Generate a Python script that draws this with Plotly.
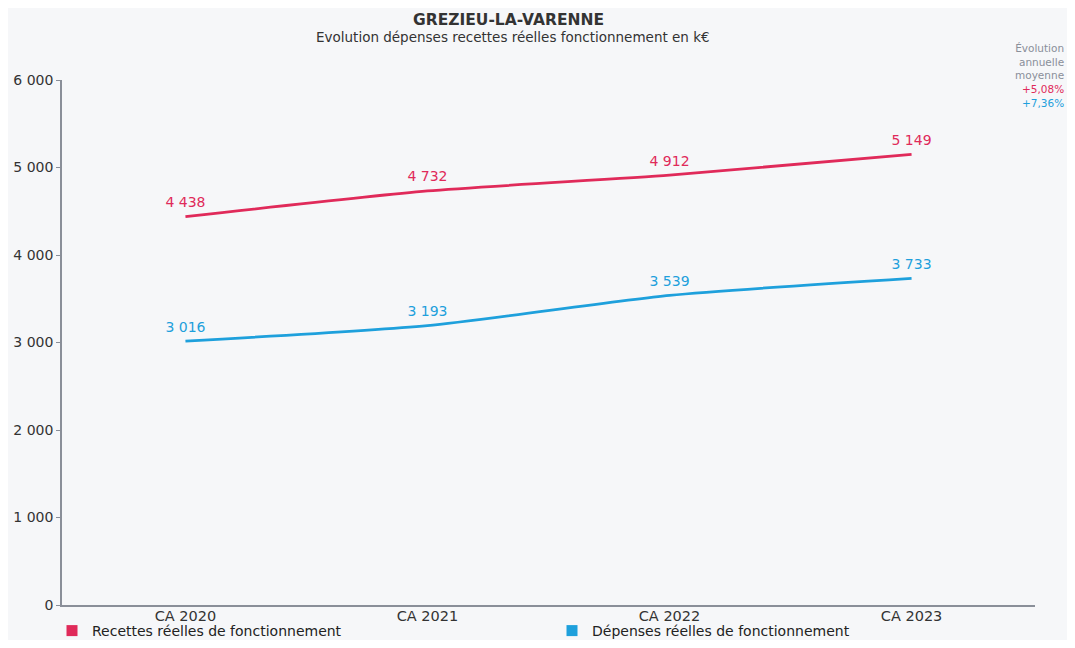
import plotly.graph_objects as go

categories = ["CA 2020", "CA 2021", "CA 2022", "CA 2023"]
recettes = [4438, 4732, 4912, 5149]
depenses = [3016, 3193, 3539, 3733]
series_names = ["Recettes réelles de fonctionnement", "Dépenses réelles de fonctionnement"]
growth_labels = ["+5,08%", "+7,36%"]
y_ticks = [0, 1000, 2000, 3000, 4000, 5000, 6000]

RED = "#e02a5a"
BLUE = "#1ea0dc"
FONT = "DejaVu Sans"
BG = "#f6f7f9"

# the page body adds an 8px margin; size the figure so it fits inside it
OFF = 8
W, H = 1075 - 2 * OFF, 648 - 2 * OFF
L, R, T, B = 62 - OFF, W - (1035 - OFF), 80 - OFF, H - (605 - OFF)

def fmt(v):
    return f"{v:,}".replace(",", " ")

fig = go.Figure()
for name, vals, col in [(series_names[0], recettes, RED), (series_names[1], depenses, BLUE)]:
    fig.add_trace(go.Scatter(
        x=categories, y=vals, mode="lines+markers+text",
        line=dict(color=col, width=2.8, shape="spline", smoothing=0.6),
        marker=dict(size=8, opacity=0, color=col),
        text=[fmt(v) for v in vals], textposition="top center",
        textfont=dict(color=col, size=14, family=FONT),
        showlegend=False, name=name, cliponaxis=False, hoverinfo="x+y",
    ))
    fig.add_trace(go.Scatter(
        x=[None], y=[None], mode="markers", name=name,
        marker=dict(symbol="square", size=11, color=col),
    ))

plot_w = W - L - R
plot_h = H - T - B
def px_x(p):
    return (p - OFF - L) / plot_w
def px_y(p):
    return (H - B - (p - OFF)) / plot_h

growth_text = (
    "Évolution<br>annuelle<br>moyenne<br>"
    f"<span style='color:{RED}'>{growth_labels[0]}</span><br>"
    f"<span style='color:{BLUE}'>{growth_labels[1]}</span>"
)

fig.update_layout(
    width=W, height=H,
    paper_bgcolor=BG, plot_bgcolor=BG,
    margin=dict(l=L, r=R, t=T, b=B, autoexpand=False),
    font=dict(family=FONT, color="#333333", size=12),
    separators=", ",
    xaxis=dict(
        type="category", range=[-0.51, 3.51],
        showline=True, linecolor="#8a8f99", linewidth=1.5,
        showgrid=False, ticks="", tickfont=dict(size=14.5, color="#333333"),
        ticklabelstandoff=-3, zeroline=False,
    ),
    yaxis=dict(
        range=[0, 6000], tickvals=y_ticks, tickformat=",d",
        showline=True, linecolor="#8a8f99", linewidth=1.5,
        showgrid=False, ticks="outside", ticklen=4, tickcolor="#8a8f99",
        tickfont=dict(size=14, color="#333333"), zeroline=False,
    ),
    legend=dict(
        orientation="h", x=px_x(52), xanchor="left", y=px_y(631), yanchor="middle",
        entrywidthmode="pixels", entrywidth=455, itemwidth=30,
        font=dict(size=14, color="#222222", family=FONT),
        bgcolor="rgba(0,0,0,0)", tracegroupgap=0,
    ),
    annotations=[
        dict(text="<b>GREZIEU-LA-VARENNE</b>", x=px_x(508), y=px_y(20),
             xanchor="center", yanchor="middle",
             font=dict(size=15.5, color="#333333")),
        dict(text="Evolution dépenses recettes réelles fonctionnement en k€",
             x=px_x(513), y=px_y(37), xanchor="center", yanchor="middle",
             font=dict(size=13.5, color="#333333")),
        dict(text=growth_text, x=px_x(1066), y=px_y(76),
             xanchor="right", yanchor="middle", align="right",
             font=dict(size=10.5, color="#8a8f99")),
    ],
)
for a in fig.layout.annotations:
    a.update(xref="paper", yref="paper", showarrow=False)

fig.write_html("out.html")
